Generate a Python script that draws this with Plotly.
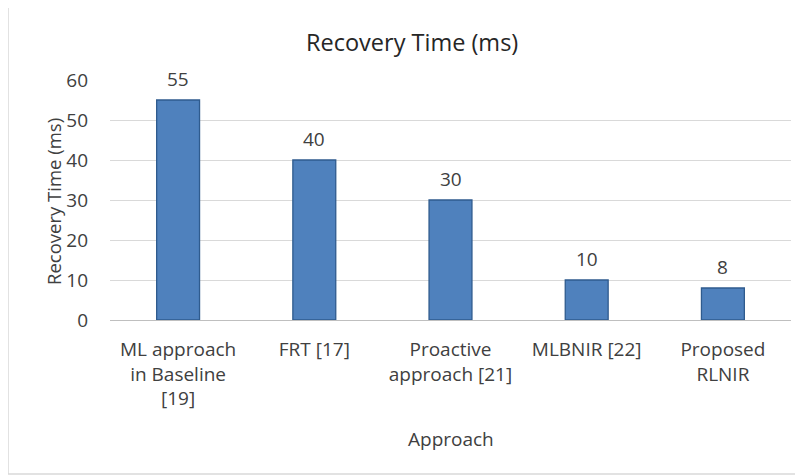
import plotly.graph_objects as go

categories = ["ML approach<br>in Baseline<br>[19]", "FRT [17]", "Proactive<br>approach [21]", "MLBNIR [22]", "Proposed<br>RLNIR"]
values = [55, 40, 30, 10, 8]
y_ticks = [0, 10, 20, 30, 40, 50, 60]

FONT = "'Open Sans', Lato, sans-serif"
TXT = "#404040"
FS = 19

# The page body has an 8px margin; build the figure in page coordinates minus 8.
OFF = 8
W, H = 803 - OFF, 476 - OFF
L, T = 110 - OFF, 80 - OFF
pw, ph = 681, 240
R = W - L - pw
B = H - T - ph

def px(x):
    return (x - OFF - L) / pw

def py(y):
    return (T + ph - (y - OFF)) / ph

fig = go.Figure(go.Bar(
    x=categories, y=values,
    marker=dict(color="#4f81bd", line=dict(color="#2f5b8e", width=1.3)),
    width=0.315,
))

annotations = [
    dict(x=c, y=v, xref="x", yref="y", text=str(v), showarrow=False,
         yanchor="middle", yshift=21, font=dict(family=FONT, size=FS, color=TXT))
    for c, v in zip(categories, values)
]
annotations += [
    dict(text="Recovery Time (ms)", xref="paper", yref="paper", x=px(412), y=py(42),
         showarrow=False, font=dict(family=FONT, size=23.5, color="#262626"),
         xanchor="center", yanchor="middle"),
    dict(text="Recovery Time (ms)", xref="paper", yref="paper", x=px(53), y=py(202),
         showarrow=False, textangle=-90, font=dict(family=FONT, size=18.5, color=TXT),
         xanchor="center", yanchor="middle"),
    dict(text="Approach", xref="paper", yref="paper", x=px(451), y=py(439),
         showarrow=False, font=dict(family=FONT, size=FS, color=TXT),
         xanchor="center", yanchor="middle"),
]

fig.update_layout(
    width=W, height=H,
    margin=dict(l=L, r=R, t=T, b=B, autoexpand=False),
    paper_bgcolor="white", plot_bgcolor="white",
    showlegend=False,
    font=dict(family=FONT, size=FS, color=TXT),
    xaxis=dict(showgrid=False, showline=True, linecolor="#bfbfbf", linewidth=1.3,
               ticks="", tickfont=dict(family=FONT, size=FS, color=TXT),
               ticklabelstandoff=12),
    yaxis=dict(range=[0, 60], tickvals=y_ticks, showgrid=True, gridcolor="#d9d9d9",
               gridwidth=1.3, zeroline=False, showline=False, ticks="",
               tickfont=dict(family=FONT, size=FS, color=TXT), ticklabelstandoff=21),
    shapes=[dict(type="rect", xref="paper", yref="paper",
                 x0=px(8), x1=px(812), y0=py(474), y1=py(5),
                 line=dict(color="#d9d9d9", width=1.5), fillcolor="rgba(0,0,0,0)")],
    annotations=annotations,
)

fig.write_html("out.html")
